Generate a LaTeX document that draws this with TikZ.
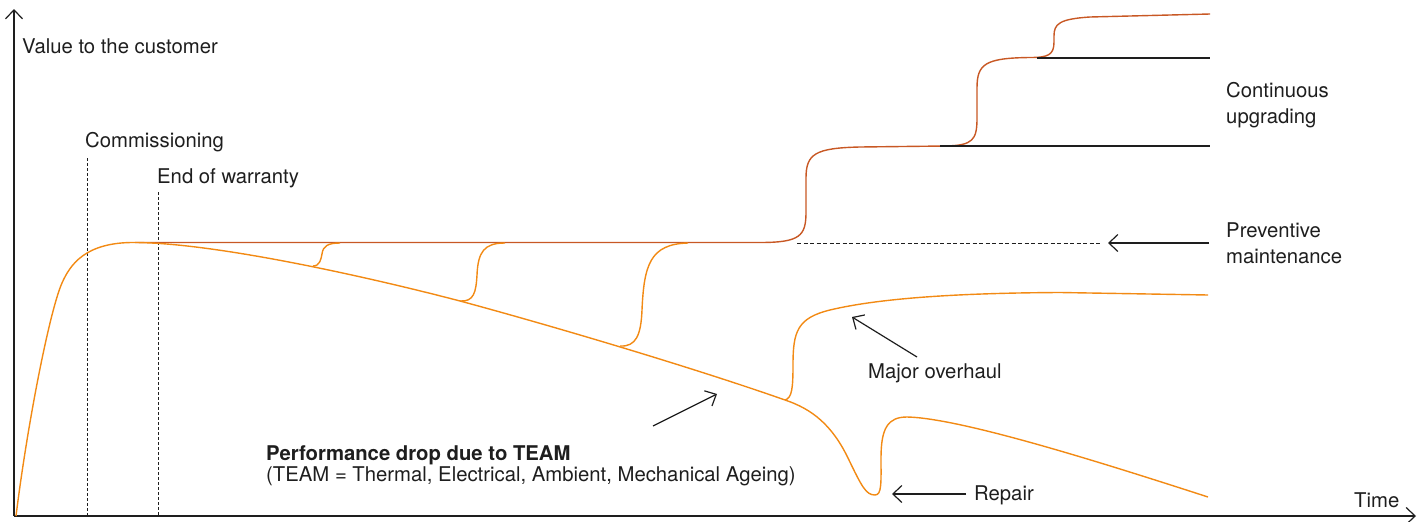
\documentclass[tikz,border=0pt]{standalone}
\usepackage{fontspec}
\setmainfont{TeX Gyre Heros}
\usetikzlibrary{arrows.meta}
\definecolor{lorange}{RGB}{242,138,20}
\definecolor{dorange}{RGB}{200,88,36}
\definecolor{ink}{RGB}{30,30,30}
\begin{document}
\begin{tikzpicture}[x=1pt,y=-1pt,
  lbl/.style={font=\fontsize{20.3}{26}\selectfont, text=ink, inner sep=0pt, anchor=base west},
  boldlbl/.style={lbl, font=\fontsize{20.3}{26}\selectfont\bfseries},
  axisline/.style={draw=ink, line width=1.2pt, -{Straight Barb[length=9pt,width=17pt]}},
  pointer/.style={draw=ink, line width=1.2pt, -{Straight Barb[length=9pt,width=17pt]}},
  guide/.style={draw=ink, line width=1pt, dash pattern=on 3pt off 2pt},
  hguide/.style={draw=ink, line width=1pt, dash pattern=on 4pt off 2.5pt},
  wear/.style={draw=lorange, line width=1.4pt, line join=round},
  upg/.style={draw=dorange, line width=1.4pt, line join=round},
  level/.style={draw=ink, line width=1.2pt}]
\useasboundingbox (0,0) rectangle (1427,522);

% axes
\coordinate (O) at (14,516);
\coordinate (Ytop) at (14,9);
\coordinate (Xend) at (1416,516);
\draw[axisline] (O) -- (Ytop);
\draw[axisline] (O) -- (Xend);

% labels
\node[lbl] (yl) at (22,53) {Value to the customer};
\node[lbl] (comm) at (85,147) {Commissioning};
\node[lbl] (eow) at (157,183) {End of warranty};
\node[lbl] (cu1) at (1226,97) {Continuous};
\node[lbl] (cu2) at (1226,123) {upgrading};
\node[lbl] (pm1) at (1226,237) {Preventive};
\node[lbl] (pm2) at (1226,263) {maintenance};
\node[lbl] (mo) at (868,378) {Major overhaul};
\node[lbl] (rep) at (974,500) {Repair};
\node[boldlbl] (pd1) at (266,460) {Performance drop due to TEAM};
\node[lbl] (pd2) at (266,481.5) {(TEAM = Thermal, Electrical, Ambient, Mechanical Ageing)};
\node[lbl] (time) at (1354,507) {Time};

% dashed milestones
\coordinate (c1) at (87,158);
\coordinate (c2) at (87,516);
\coordinate (w1) at (158,192);
\coordinate (w2) at (158,516);
\draw[guide] (c1) -- (c2);
\draw[guide] (w1) -- (w2);

% continuous upgrading (dark)
\draw[upg] (135,242.5) -- (760,242.5) .. controls (800,242.5) and (806,236) .. (806,212)
  -- (806,178) .. controls (806,154) and (815,148) .. (860,147) -- (945,146)
  .. controls (973,145.5) and (977,140) .. (977,118) -- (977,88)
  .. controls (977,64) and (985,58) .. (1030,57.5)
  .. controls (1048,57.5) and (1054,55) .. (1054,42) -- (1054,36)
  .. controls (1054,24) and (1059,19) .. (1090,17) -- (1210,14);

% level lines
\coordinate (l1a) at (940,146);
\coordinate (l1b) at (1210,146);
\coordinate (l2a) at (1037,58);
\coordinate (l2b) at (1210,58);
\draw[level] (l1a) -- (l1b);
\draw[level] (l2a) -- (l2b);

% start-up, decline and repair
\draw[wear] (16,516) .. controls (28,420) and (50,310) .. (62,283)
  .. controls (70,265) and (85,242) .. (135,242.5)
  .. controls (220,243) and (380,280) .. (460,301)
  .. controls (560,328) and (700,370) .. (785,400)
  .. controls (812,409) and (832,425) .. (848,458)
  .. controls (862,487) and (866,495) .. (875,495)
  .. controls (882,495) and (881,482) .. (881,458)
  .. controls (881,428) and (888,417) .. (907,417)
  .. controls (960,418) and (1100,462) .. (1208,497);

% preventive maintenance steps
\draw[wear] (313,266) .. controls (320,266) and (321,259) .. (322,254)
  .. controls (323,246) and (328,243) .. (340,243);
\draw[wear] (460,301) .. controls (474,302) and (476,292) .. (477,275)
  .. controls (478,252) and (484,243) .. (505,243);
\draw[wear] (620,346) .. controls (636,347) and (641,335) .. (642,310)
  .. controls (644,265) and (650,244) .. (688,243);

% major overhaul
\draw[wear] (785,400) .. controls (792,398) and (793,388) .. (793,365)
  .. controls (793,332) and (797,318) .. (830,310)
  .. controls (880,298) and (960,293) .. (1060,292.5) -- (1208,295);

% pointers
\coordinate (pmT) at (1209,243);
\coordinate (pmH) at (1108,243);
\coordinate (pmD1) at (797,243);
\coordinate (pmD2) at (1102,243);
\draw[hguide] (pmD1) -- (pmD2);
\draw[pointer] (pmT) -- (pmH);

\coordinate (moT) at (917,357);
\coordinate (moH) at (852,317);
\draw[pointer] (moT) -- (moH);

\coordinate (repT) at (966,494);
\coordinate (repH) at (892,494);
\draw[pointer] (repT) -- (repH);

\coordinate (pdT) at (653,426);
\coordinate (pdH) at (717,394);
\draw[pointer] (pdT) -- (pdH);
\end{tikzpicture}
\end{document}
